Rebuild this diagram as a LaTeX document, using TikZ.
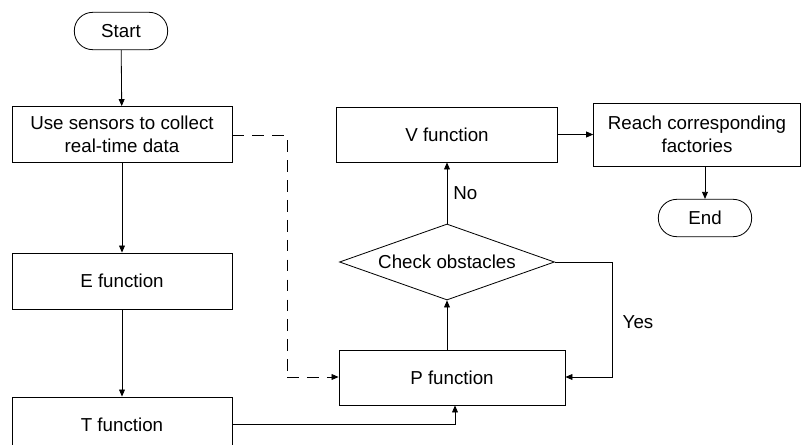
\documentclass[tikz,border=0pt]{standalone}
\usepackage{fontspec}
\setmainfont{Liberation Sans}
\usetikzlibrary{shapes.geometric,arrows.meta}
\begin{document}
\begin{tikzpicture}[x=0.03cm,y=-0.03cm,
  every node/.style={font=\fontsize{16}{19.5}\selectfont},
  box/.style={draw,line width=0.7pt,minimum width=6.6cm,minimum height=1.68cm,inner sep=0pt,align=center},
  term/.style={draw,line width=0.7pt,rounded corners=0.55cm,minimum width=2.8cm,minimum height=1.12cm,inner sep=0pt},
  dia/.style={draw,line width=0.7pt,diamond,aspect=2.83,minimum width=6.45cm,minimum height=2.28cm,inner sep=0pt},
  conn/.style={line width=0.7pt,-{Triangle[length=6pt,width=5pt]}},
  lbl/.style={inner sep=0pt}]
\useasboundingbox (0,0) rectangle (803,445);
\node[term] (start) at (121,31) {Start};
\node[box] (sens) at (122,134.5) {Use sensors to collect\\real-time data};
\node[box] (E) at (122,281) {E function};
\node[box] (T) at (122,425) {T function};
\node[box,minimum width=6.78cm,minimum height=1.65cm] (P) at (452,377.5) {P function};
\node[dia] (chk) at (447,262) {Check obstacles};
\node[box,minimum width=6.63cm,minimum height=1.65cm] (V) at (447,134.5) {V function};
\node[box,minimum width=6.2cm,minimum height=1.89cm] (R) at (697,134.5) {Reach corresponding\\factories};
\node[term] (end) at (705,218) {End};
\coordinate (d1) at (287,135);
\coordinate (d2) at (287,377);
\coordinate (t1) at (455,424);
\coordinate (y1) at (612,262);
\coordinate (y2) at (612,377);
\draw[conn] (start) -- (sens);
\draw[conn] (sens) -- (E);
\draw[conn] (E) -- (T);
\draw[line width=0.7pt,dashed,dash pattern=on 10pt off 7pt] (sens.east |- d1) -- (d1) -- (d2);
\draw[conn,dashed,dash pattern=on 10pt off 7pt] (d2) -- (P.west |- d2);
\draw[conn] (T.east |- t1) -- (t1) -- (P.south -| t1);
\draw[conn] (P.north -| chk.south) -- (chk.south);
\draw[conn] (chk.north) -- node[right,lbl,xshift=5pt] {No} (V.south -| chk.north);
\draw[conn] (chk.east) -- (y1) -- (y2) -- (P.east |- y2);
\node[lbl] (yes) at (638,322) {Yes};
\draw[conn] (V.east) -- (R.west |- V.east);
\draw[conn] (R.south -| end.north) -- (end.north);
\end{tikzpicture}
\end{document}
